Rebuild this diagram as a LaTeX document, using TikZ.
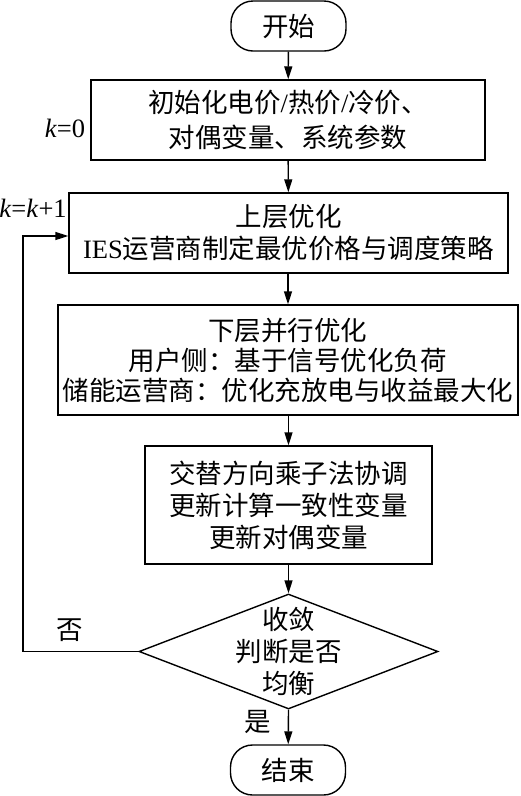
\documentclass[tikz,border=0pt]{standalone}
\usepackage{fontspec}
\setmainfont{Liberation Serif}
\newfontfamily\cjk{Noto Sans CJK SC}
\usetikzlibrary{arrows.meta,shapes.geometric}
\begin{document}
\begin{tikzpicture}[x=1pt,y=-1pt,
  line width=1.4pt,
  txt/.style={font=\fontsize{26.5}{32}\selectfont\cjk, align=center},
  procbox/.style={draw, rectangle, inner sep=0pt, txt},
  term/.style={draw, rectangle, rounded corners=22pt, inner sep=0pt, minimum width=115pt, minimum height=50pt, txt},
  flow/.style={-{Triangle[length=13pt,width=8pt]}},
  lbl/.style={font=\fontsize{26.5}{30}\selectfont, inner sep=0pt},
  cjklbl/.style={font=\fontsize{26.5}{30}\selectfont\cjk, inner sep=0pt}
]
\useasboundingbox (0,0) rectangle (520,796);
\node[term] (start) at (288.5,26) {开始};
\node[procbox, minimum width=394pt, minimum height=80pt, font=\fontsize{26.5}{35}\selectfont\cjk] (b1) at (288,120)
  {初始化电价{\rmfamily/}热价{\rmfamily/}冷价、\\对偶变量、系统参数};
\node[procbox, minimum width=439pt, minimum height=80pt] (b2) at (288.5,233)
  {上层优化\\{\rmfamily IES}运营商制定最优价格与调度策略};
\node[procbox, minimum width=460pt, minimum height=110pt, font=\fontsize{26.5}{30}\selectfont\cjk] (b3) at (288,360)
  {下层并行优化\\用户侧：基于信号优化负荷\\储能运营商：优化充放电与收益最大化};
\node[procbox, minimum width=287pt, minimum height=118pt] (b4) at (288.5,505)
  {交替方向乘子法协调\\更新计算一致性变量\\更新对偶变量};
\node[draw, diamond, inner sep=0pt, minimum width=299pt, minimum height=115pt] (d) at (288.5,651.5) {};
\node[txt] (dt) at (d.center) {收敛\\判断是否\\均衡};
\node[term] (end) at (288,770) {结束};

\node[lbl] (k0) at (65,128) {\textit{k}=0};
\node[lbl] (kk) at (33,208) {\textit{k}=\textit{k}+1};
\node[cjklbl] (no) at (70,630) {否};
\node[cjklbl] (yes) at (258,722) {是};

\coordinate (fb) at (23,236);
\draw[flow] (start) -- (b1);
\draw[flow] (b1) -- (b2);
\draw[flow] (b2.south -| b3.north) -- (b3);
\draw[flow] (b3.south -| b4.north) -- (b4);
\draw[flow] (b4.south -| d.north) -- (d.north);
\draw[flow] (d.south) -- (end);
\draw[flow] (d.west) -| (fb) -- (fb -| b2.west);
\end{tikzpicture}
\end{document}
